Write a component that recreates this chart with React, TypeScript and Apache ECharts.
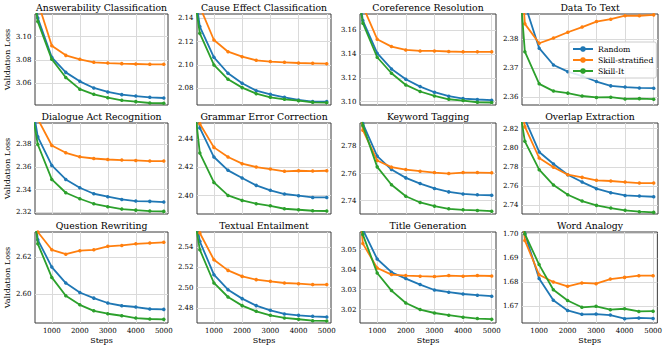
import React, { useEffect, useRef } from "react";
import * as echarts from "echarts";

const steps = [0, 500, 1000, 1500, 2000, 2500, 3000, 3500, 4000, 4500, 5000];
const xTicks = [1000, 2000, 3000, 4000, 5000];

const tasks = [
  "Answerability Classification",
  "Cause Effect Classification",
  "Coreference Resolution",
  "Data To Text",
  "Dialogue Act Recognition",
  "Grammar Error Correction",
  "Keyword Tagging",
  "Overlap Extraction",
  "Question Rewriting",
  "Textual Entailment",
  "Title Generation",
  "Word Analogy",
];

const seriesNames = ["Random", "Skill-stratified", "Skill-It"];

const randomLoss = [
  [3.2, 3.116, 3.0823, 3.0694, 3.0617, 3.056, 3.0526, 3.0503, 3.0491, 3.048, 3.0474],
  [2.22, 2.1329, 2.1066, 2.0929, 2.0843, 2.078, 2.0749, 2.0723, 2.07, 2.0686, 2.0686],
  [3.25, 3.1679, 3.1406, 3.1274, 3.1188, 3.1126, 3.1079, 3.1046, 3.1026, 3.1018, 3.1012],
  [2.45, 2.392, 2.3768, 2.371, 2.3687, 2.3672, 2.3653, 2.3638, 2.3634, 2.3631, 2.363],
  [2.46, 2.3863, 2.3612, 2.3489, 2.3416, 2.3363, 2.3337, 2.3313, 2.3299, 2.3296, 2.329],
  [2.53, 2.4478, 2.4273, 2.4179, 2.4125, 2.4073, 2.4038, 2.4012, 2.4, 2.3988, 2.3988],
  [2.86, 2.7968, 2.7728, 2.7629, 2.7568, 2.7526, 2.749, 2.7465, 2.745, 2.7443, 2.744],
  [2.91, 2.83, 2.7957, 2.7831, 2.772, 2.7643, 2.7574, 2.7532, 2.7504, 2.7497, 2.749],
  [2.7, 2.6297, 2.6147, 2.6059, 2.6007, 2.5976, 2.5949, 2.5934, 2.5927, 2.5916, 2.5914],
  [2.63, 2.5456, 2.5128, 2.498, 2.4892, 2.4823, 2.4777, 2.4741, 2.4728, 2.4718, 2.4711],
  [3.12, 3.06, 3.0453, 3.0387, 3.0355, 3.0325, 3.0298, 3.0287, 3.0278, 3.0272, 3.0267],
  [1.76, 1.7, 1.6814, 1.6724, 1.6682, 1.6666, 1.6667, 1.6663, 1.6648, 1.6651, 1.6649],
];

const stratifiedLoss = [
  [3.21, 3.13, 3.0923, 3.084, 3.0806, 3.078, 3.0774, 3.0769, 3.0766, 3.0763, 3.0763],
  [2.23, 2.15, 2.1214, 2.1114, 2.1071, 2.104, 2.1029, 2.1023, 2.1017, 2.1014, 2.1011],
  [3.26, 3.18, 3.1523, 3.1461, 3.1433, 3.1425, 3.1425, 3.142, 3.1417, 3.1417, 3.1417],
  [2.46, 2.3852, 2.3785, 2.3803, 2.3823, 2.3841, 2.386, 2.3868, 2.388, 2.388, 2.3883],
  [2.47, 2.402, 2.3787, 2.3723, 2.3688, 2.3673, 2.3664, 2.3659, 2.3656, 2.365, 2.365],
  [2.54, 2.4508, 2.4341, 2.4273, 2.4226, 2.4202, 2.4188, 2.4172, 2.4176, 2.4174, 2.4176],
  [2.87, 2.7919, 2.7696, 2.7647, 2.7629, 2.7617, 2.7607, 2.76, 2.7607, 2.7607, 2.7605],
  [2.92, 2.822, 2.7894, 2.7797, 2.772, 2.7692, 2.7661, 2.7654, 2.7643, 2.7633, 2.7633],
  [2.71, 2.634, 2.6242, 2.6218, 2.6237, 2.6242, 2.6261, 2.6266, 2.6275, 2.6279, 2.6283],
  [2.64, 2.5538, 2.5275, 2.517, 2.5111, 2.5079, 2.5062, 2.5046, 2.5039, 2.503, 2.503],
  [3.13, 3.053, 3.0408, 3.0375, 3.037, 3.0367, 3.0365, 3.037, 3.0367, 3.037, 3.0368],
  [1.77, 1.6972, 1.683, 1.68, 1.6782, 1.6796, 1.6793, 1.6812, 1.6819, 1.6826, 1.6826],
];

const skillItLoss = [
  [3.19, 3.113, 3.0806, 3.065, 3.055, 3.0506, 3.0477, 3.0454, 3.0443, 3.0431, 3.0429],
  [2.21, 2.1271, 2.1, 2.0877, 2.0806, 2.0754, 2.0723, 2.0706, 2.0694, 2.068, 2.0677],
  [3.24, 3.1657, 3.1372, 3.1238, 3.114, 3.1085, 3.1048, 3.102, 3.1009, 3.0995, 3.0993],
  [2.44, 2.3756, 2.3645, 2.362, 2.3613, 2.3603, 2.3598, 2.3599, 2.3593, 2.3594, 2.3592],
  [2.45, 2.3796, 2.3489, 2.3372, 2.3319, 2.3275, 2.3249, 2.3228, 2.3219, 2.3211, 2.3208],
  [2.52, 2.4301, 2.4094, 2.4002, 2.3967, 2.3944, 2.3929, 2.3908, 2.3901, 2.3894, 2.3892],
  [2.85, 2.7953, 2.7649, 2.7517, 2.7433, 2.7387, 2.736, 2.734, 2.7333, 2.7328, 2.7323],
  [2.9, 2.8068, 2.7772, 2.7612, 2.7511, 2.7445, 2.74, 2.7372, 2.7348, 2.7334, 2.7327],
  [2.69, 2.6275, 2.609, 2.5989, 2.5939, 2.5906, 2.589, 2.5879, 2.5866, 2.5861, 2.5859],
  [2.62, 2.5374, 2.5046, 2.4908, 2.4823, 2.4767, 2.4728, 2.4702, 2.4689, 2.4675, 2.4672],
  [3.11, 3.0575, 3.0383, 3.0295, 3.0233, 3.02, 3.0183, 3.0172, 3.0162, 3.0155, 3.0152],
  [1.75, 1.6999, 1.6872, 1.6768, 1.6723, 1.6695, 1.6699, 1.6685, 1.6689, 1.6678, 1.6679],
];

const yMins = [3.0414, 2.0657, 3.0972, 2.3572, 2.3185, 2.3871, 2.7302, 2.731, 2.5839, 2.4652, 3.0133, 1.663];
const yMaxs = [3.1195, 2.1437, 3.1734, 2.3886, 2.3985, 2.4513, 2.7972, 2.8259, 2.634, 2.5548, 3.0588, 1.7007];
const yTicks = [
  [3.06, 3.08, 3.1],
  [2.08, 2.1, 2.12, 2.14],
  [3.1, 3.12, 3.14, 3.16],
  [2.36, 2.37, 2.38],
  [2.32, 2.34, 2.36, 2.38],
  [2.4, 2.42, 2.44],
  [2.74, 2.76, 2.78],
  [2.74, 2.76, 2.78, 2.8, 2.82],
  [2.6, 2.62],
  [2.48, 2.5, 2.52, 2.54],
  [3.02, 3.03, 3.04, 3.05],
  [1.67, 1.68, 1.69, 1.7],
];

const colors = ["#1f77b4", "#ff7f0e", "#2ca02c"];
const colLefts = [35, 197, 360, 522];
const colWidths = [133, 134, 136, 136];
const rowTops = [14, 123, 232];
const panelHeight = 91;
const serif = "'DejaVu Serif', serif";

export default function App() {
  const ref = useRef<HTMLDivElement>(null);
  useEffect(() => {
    if (!ref.current) return;
    const chart = echarts.init(ref.current, undefined, { renderer: "svg" });
    const grids: any[] = [];
    const xAxes: any[] = [];
    const yAxes: any[] = [];
    const titles: any[] = [];
    const series: any[] = [];
    const all = [randomLoss, stratifiedLoss, skillItLoss];
    tasks.forEach((task, i) => {
      const r = Math.floor(i / 4);
      const c = i % 4;
      grids.push({
        left: colLefts[c],
        top: rowTops[r],
        width: colWidths[c],
        height: panelHeight,
        show: true,
        borderColor: "#3a3a3a",
        borderWidth: 1,
        backgroundColor: "transparent",
      });
      titles.push({
        text: task,
        left: colLefts[c] + colWidths[c] / 2,
        top: rowTops[r] - 11.5,
        textAlign: "center",
        padding: 0,
        textStyle: { fontFamily: serif, fontSize: 9.3, fontWeight: "normal", color: "#000" },
      });
      xAxes.push({
        type: "value",
        gridIndex: i,
        min: 400,
        max: 5150,
        axisLine: { show: false },
        axisTick: { show: false, customValues: xTicks },
        splitLine: { show: true, lineStyle: { color: "#dadada", width: 1 } },
        axisLabel: {
          show: r === 2,
          customValues: xTicks,
          formatter: (v: number) => String(v),
          fontFamily: serif,
          fontSize: 7,
          fontWeight: "normal",
          color: "#000",
          margin: 4,
        },
        name: r === 2 ? "Steps" : "",
        nameLocation: "middle",
        nameGap: 13,
        nameTextStyle: { fontFamily: serif, fontSize: 8, fontWeight: "normal", color: "#000" },
      });
      yAxes.push({
        type: "value",
        gridIndex: i,
        min: yMins[i],
        max: yMaxs[i],
        axisLine: { show: false },
        axisTick: { show: false, customValues: yTicks[i] },
        splitLine: { show: true, lineStyle: { color: "#dadada", width: 1 } },
        axisLabel: {
          customValues: yTicks[i],
          formatter: (v: number) => v.toFixed(2),
          fontFamily: serif,
          fontSize: 7,
          fontWeight: "normal",
          color: "#000",
          margin: 3.5,
        },
        name: c === 0 ? "Validation Loss" : "",
        nameLocation: "middle",
        nameRotate: 90,
        nameGap: 24,
        nameTextStyle: { fontFamily: serif, fontSize: 8, fontWeight: "normal", color: "#000" },
      });
      all.forEach((arr, k) => {
        series.push({
          type: "line",
          name: seriesNames[k],
          xAxisIndex: i,
          yAxisIndex: i,
          data: steps.map((s, j) => [s, arr[i][j]]),
          color: colors[k],
          lineStyle: { width: 1.8, color: colors[k] },
          symbol: "circle",
          symbolSize: 3.5,
          showSymbol: true,
          itemStyle: { color: colors[k] },
          clip: true,
          z: 2 + k,
        });
      });
    });
    chart.setOption({
      animation: false,
      backgroundColor: "#fff",
      textStyle: { fontFamily: serif, fontWeight: "normal" },
      title: titles,
      grid: grids,
      xAxis: xAxes,
      yAxis: yAxes,
      series,
      legend: {
        data: seriesNames,
        orient: "vertical",
        left: 569,
        top: 42,
        itemWidth: 20,
        itemHeight: 7,
        itemGap: 3,
        padding: [3, 3, 3, 3],
        backgroundColor: "rgba(255,255,255,0.85)",
        borderColor: "#ccc",
        borderWidth: 1,
        borderRadius: 2,
        textStyle: { fontFamily: serif, fontSize: 7.7, fontWeight: "normal", color: "#000" },
      },
    });
    return () => chart.dispose();
  }, []);
  return (
    <div
      ref={ref}
      style={{ position: "fixed", left: 0, top: 0, width: 665, height: 349 }}
    />
  );
}
